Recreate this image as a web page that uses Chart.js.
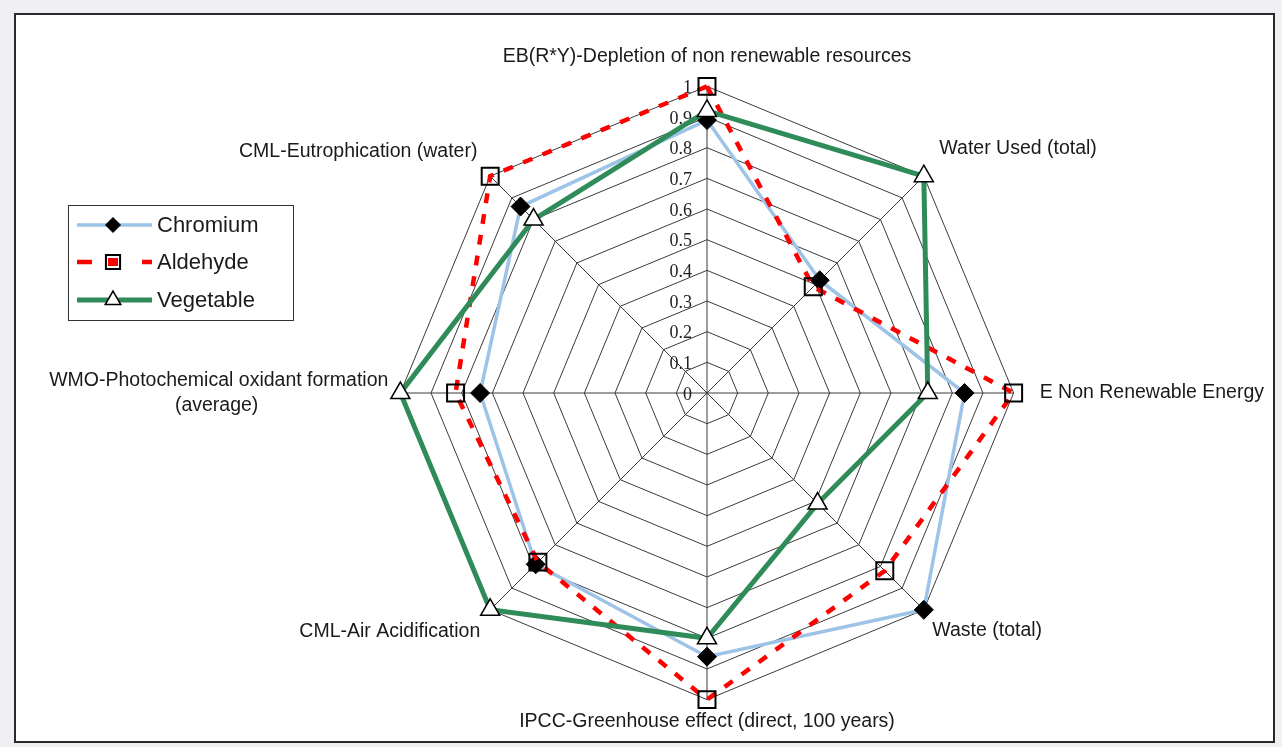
<!DOCTYPE html>
<html>
<head>
<meta charset="utf-8">
<script src="https://cdn.jsdelivr.net/npm/chart.js@4"></script>
<style>
html, body { margin: 0; padding: 0; width: 1282px; height: 747px; overflow: hidden; background: #f0f0f4; }
#marco { position: absolute; left: 14px; top: 13px; width: 1257px; height: 726px; background: #fff; border: 2px solid #2a2a2a; }
#graficoRadar { position: absolute; left: 7px; top: 15px; }
</style>
</head>
<body>
<div id="marco"></div>
<canvas id="graficoRadar" width="1400" height="726"></canvas>
<script>
// Categorias (ejes)
const categorias = [
  'EB(R*Y)-Depletion of non renewable resources',
  'Water Used (total)',
  'E Non Renewable Energy',
  'Waste (total)',
  'IPCC-Greenhouse effect (direct, 100 years)',
  'CML-Air Acidification',
  ['WMO-Photochemical oxidant formation', '(average)' + '\u00A0'.repeat(24)],
  'CML-Eutrophication (water)'
];

// Series
const chromium  = [0.89, 0.52, 0.84, 1.00, 0.86, 0.79, 0.74, 0.86];
const aldehyde  = [1.00, 0.49, 1.00, 0.82, 1.00, 0.78, 0.82, 1.00];
const vegetable = [0.92, 1.00, 0.72, 0.51, 0.80, 1.00, 1.00, 0.80];

// Marcas del eje radial
const valoresEje   = [0, 0.1, 0.2, 0.3, 0.4, 0.5, 0.6, 0.7, 0.8, 0.9, 1];
const etiquetasEje = ['0', '0.1', '0.2', '0.3', '0.4', '0.5', '0.6', '0.7', '0.8', '0.9', '1'];

// separacion de cada etiqueta de eje
const separacion = [18, 22, 26, 12, 10, 14, 12, 18];

const fuente = '"Liberation Sans", Arial, sans-serif';

// etiquetas del eje radial, a la izquierda del eje vertical
const marcasEje = {
  id: 'marcasEje',
  beforeDatasetsDraw(chart) {
    const r = chart.scales.r;
    const ctx = chart.ctx;
    ctx.save();
    ctx.font = '18px "Liberation Serif", "Times New Roman", serif';
    ctx.fillStyle = '#222';
    ctx.textAlign = 'right';
    ctx.textBaseline = 'middle';
    valoresEje.forEach((v, i) => {
      const d = r.getDistanceFromCenterForValue(v);
      ctx.fillText(etiquetasEje[i], r.xCenter - 15, r.yCenter - d + 2);
    });
    ctx.restore();
  }
};

// leyenda con recuadro, linea y marcador
const leyenda = {
  id: 'leyenda',
  afterDraw(chart) {
    const ctx = chart.ctx;
    ctx.save();
    ctx.strokeStyle = '#333';
    ctx.lineWidth = 1;
    ctx.strokeRect(61.5, 190.5, 225, 115);
    const filas = [210, 247, 285];
    chart.data.datasets.forEach((ds, i) => {
      const y = filas[i];
      ctx.save();
      ctx.strokeStyle = ds.borderColor;
      ctx.lineWidth = ds.borderWidth;
      ctx.setLineDash(ds.borderDash ? [15, 50] : []);
      ctx.beginPath();
      ctx.moveTo(70, y);
      ctx.lineTo(145, y);
      ctx.stroke();
      ctx.restore();
      if (ds.borderDash) {
        ctx.fillStyle = ds.borderColor;
        ctx.fillRect(101, y - 4, 10, 8);
      }
      ctx.save();
      ctx.fillStyle = ds.pointBackgroundColor;
      ctx.strokeStyle = ds.pointBorderColor;
      ctx.lineWidth = ds.pointBorderWidth;
      Chart.helpers.drawPoint(ctx, {
        pointStyle: ds.pointStyle,
        radius: ds.pointRadius - 2,
        rotation: 0,
        borderWidth: ds.pointBorderWidth
      }, 106, y);
      ctx.restore();
      ctx.fillStyle = '#1a1a1a';
      ctx.font = '22px ' + fuente;
      ctx.textAlign = 'left';
      ctx.textBaseline = 'middle';
      ctx.fillText(ds.label, 150, y + 1);
    });
    ctx.restore();
  }
};

new Chart(document.getElementById('graficoRadar'), {
  type: 'radar',
  data: {
    labels: categorias,
    datasets: [
      {
        label: 'Chromium',
        data: chromium,
        borderColor: '#9DC3E6',
        borderWidth: 3.5,
        fill: false,
        pointStyle: 'rectRot',
        pointRadius: 9.5,
        pointBackgroundColor: '#000',
        pointBorderColor: '#000',
        pointBorderWidth: 1,
        order: 3
      },
      {
        label: 'Aldehyde',
        data: aldehyde,
        borderColor: '#FF0000',
        borderWidth: 4.5,
        borderDash: [10, 11],
        fill: false,
        pointStyle: 'rect',
        pointRadius: 12,
        pointBackgroundColor: 'rgba(0,0,0,0)',
        pointBorderColor: '#000',
        pointBorderWidth: 2,
        order: 2
      },
      {
        label: 'Vegetable',
        data: vegetable,
        borderColor: '#2F8C5A',
        borderWidth: 5,
        fill: false,
        pointStyle: 'triangle',
        pointRadius: 11,
        pointBackgroundColor: '#fff',
        pointBorderColor: '#000',
        pointBorderWidth: 1.5,
        order: 1
      }
    ]
  },
  options: {
    responsive: false,
    animation: false,
    layout: { padding: { top: 25, bottom: 3, left: 0, right: 0 } },
    plugins: {
      legend: { display: false },
      tooltip: { enabled: false }
    },
    elements: { line: { tension: 0 } },
    scales: {
      r: {
        min: 0,
        max: 1,
        ticks: { display: false, stepSize: 0.1 },
        grid: { color: '#3a3a3a', lineWidth: 1, circular: false },
        angleLines: { color: '#3a3a3a', lineWidth: 1 },
        pointLabels: {
          color: '#1a1a1a',
          font: { size: 19.5, family: fuente, lineHeight: 1.25 },
          padding: (c) => separacion[c.index]
        }
      }
    }
  },
  plugins: [marcasEje, leyenda]
});
</script>
</body>
</html>
